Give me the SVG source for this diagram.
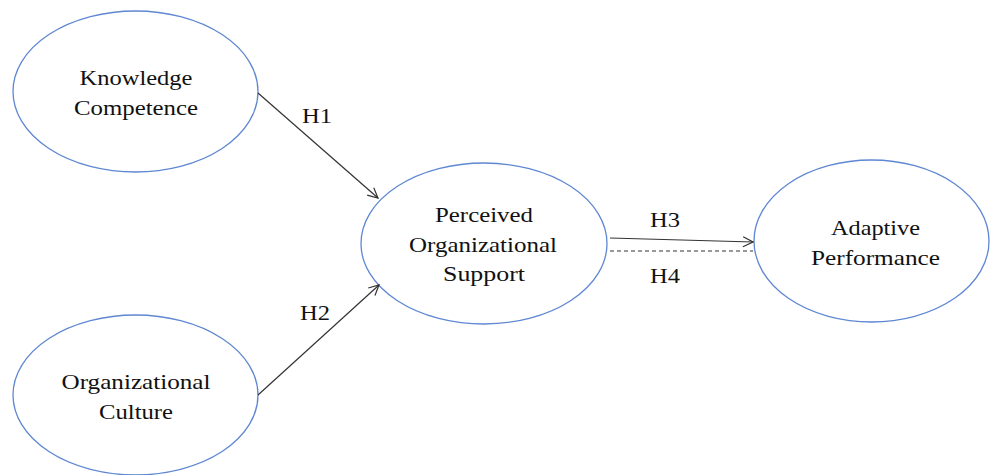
<svg xmlns="http://www.w3.org/2000/svg" width="990" height="475" viewBox="0 0 990 475">
<style>
.node ellipse{fill:#fff;stroke:#5f87d2;stroke-width:1.3}
text{font-family:"Liberation Serif","Times New Roman",serif;font-size:21px;fill:#111;text-anchor:middle}
.conn line{stroke:#333;stroke-width:1.2}
.dash{stroke-dasharray:4 3}
</style>
<defs>
<marker id="arr" viewBox="0 0 12 12" refX="11" refY="6" markerWidth="12" markerHeight="12" markerUnits="userSpaceOnUse" orient="auto">
<path d="M1,1 L11,6 L1,11" fill="none" stroke="#333" stroke-width="1.2"/>
</marker>
</defs>
<rect width="990" height="475" fill="#fff"/>
<g id="kc" class="node">
<ellipse cx="135.5" cy="91.5" rx="122.5" ry="80.5"/>
<text x="136" y="85" textLength="113" lengthAdjust="spacingAndGlyphs">Knowledge</text>
<text x="136" y="115" textLength="124" lengthAdjust="spacingAndGlyphs">Competence</text>
</g>
<g id="oc" class="node">
<ellipse cx="135.5" cy="395" rx="122.5" ry="80"/>
<text x="136" y="389" textLength="149" lengthAdjust="spacingAndGlyphs">Organizational</text>
<text x="136" y="419" textLength="74" lengthAdjust="spacingAndGlyphs">Culture</text>
</g>
<g id="pos" class="node">
<ellipse cx="484" cy="243.5" rx="123" ry="80.5"/>
<text x="484" y="222" textLength="98" lengthAdjust="spacingAndGlyphs">Perceived</text>
<text x="483" y="252" textLength="148" lengthAdjust="spacingAndGlyphs">Organizational</text>
<text x="484" y="281" textLength="82" lengthAdjust="spacingAndGlyphs">Support</text>
</g>
<g id="ap" class="node">
<ellipse cx="871.5" cy="241" rx="117.5" ry="81"/>
<text x="875.5" y="235" textLength="89" lengthAdjust="spacingAndGlyphs">Adaptive</text>
<text x="875.5" y="265" textLength="129" lengthAdjust="spacingAndGlyphs">Performance</text>
</g>
<g id="connectors" class="conn">
<line x1="258" y1="93" x2="378" y2="198" marker-end="url(#arr)"/>
<line x1="258" y1="395" x2="379" y2="285" marker-end="url(#arr)"/>
<line x1="610" y1="238" x2="753" y2="242" marker-end="url(#arr)"/>
<line class="dash" x1="610" y1="251" x2="753" y2="251"/>
</g>
<g id="labels">
<text x="317" y="123" textLength="30" lengthAdjust="spacingAndGlyphs">H1</text>
<text x="315" y="320" textLength="30" lengthAdjust="spacingAndGlyphs">H2</text>
<text x="665" y="227" textLength="30" lengthAdjust="spacingAndGlyphs">H3</text>
<text x="665" y="283" textLength="30" lengthAdjust="spacingAndGlyphs">H4</text>
</g>
</svg>
